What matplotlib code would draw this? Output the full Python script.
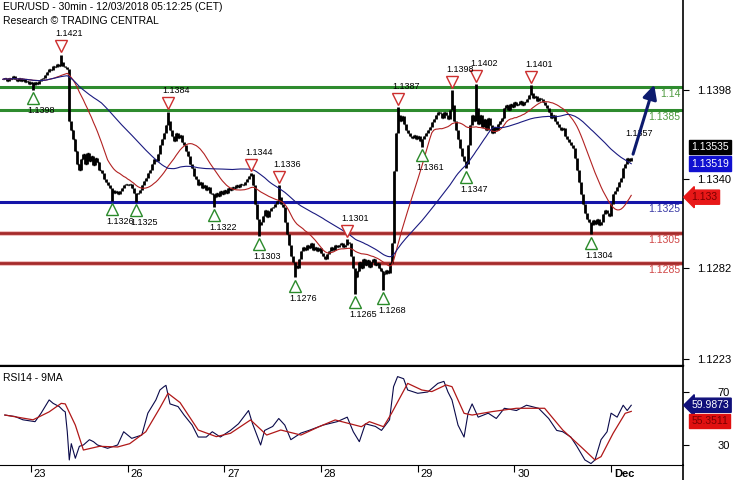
import matplotlib
matplotlib.use("Agg")
import matplotlib.pyplot as plt
from matplotlib.patches import FancyArrowPatch
from matplotlib.transforms import ScaledTranslation
import numpy as np
import pandas as pd

plt.rcParams['font.family'] = ['Liberation Sans', 'DejaVu Sans']

# 30 min closes in pips above 1.1300, 22 Nov 17:00 -> 3 Dec 05:00
close_pips = [
    105, 106, 104, 106, 105, 107, 105, 104, 106, 104,
    105, 103, 104, 102, 103, 101, 103, 102, 104, 105,
    106, 108, 110, 112, 111, 114, 113, 115, 114, 116,
    114, 113, 112, 78, 72, 66, 58, 50, 46, 53,
    56, 50, 57, 52, 55, 49, 54, 51, 46, 44,
    40, 38, 36, 34, 33, 31, 32, 30, 32, 34,
    36, 37, 36, 37, 34, 31, 30, 31, 33, 36,
    39, 41, 44, 46, 50, 53, 52, 56, 62, 66,
    70, 75, 78, 72, 68, 65, 70, 67, 69, 64,
    62, 58, 55, 50, 47, 42, 40, 36, 38, 34,
    36, 33, 35, 31, 30, 28, 31, 29, 32, 30,
    33, 31, 34, 33, 35, 34, 36, 35, 37, 36,
    38, 40, 42, 43, 36, 24, 14, 10, 12, 16,
    20, 15, 19, 21, 22, 24, 26, 28, 24, 22,
    12, 4, -3, -10, -14, -16, -18, -12, -7, -4,
    -6, -3, -5, -2, -6, -4, -7, -5, -8, -10,
    -12, -9, -7, -4, -6, -3, -4, -3, -2, -4,
    -3, -1, -2, -10, -18, -24, -20, -14, -18, -12,
    -16, -13, -17, -14, -12, -16, -15, -18, -20, -22,
    -19, -21, -15, -2, 45, 70, 82, 78, 81, 76,
    72, 70, 68, 67, 69, 66, 68, 65, 66, 68,
    70, 72, 74, 77, 79, 82, 84, 83, 80, 84,
    82, 79, 85, 88, 78, 72, 66, 60, 55, 52,
    50, 62, 75, 82, 78, 86, 76, 82, 74, 79,
    72, 80, 75, 70, 74, 72, 76, 78, 80, 86,
    88, 85, 89, 87, 90, 88, 89, 91, 88, 90,
    92, 95, 96, 93, 94, 91, 93, 92, 90, 88,
    86, 84, 80, 82, 78, 76, 74, 72, 73, 68,
    66, 64, 62, 60, 54, 46, 38, 30, 24, 18,
    14, 12, 10, 13, 11, 14, 10, 12, 17, 20,
    18, 16, 24, 30, 32, 35, 38, 41, 47, 50,
    54, 52, 53.5,
]

# swing points marked on the chart (bar index, price)
swing_highs = [(29, 1.1421), (82, 1.1384), (123, 1.1344), (137, 1.1336), (171, 1.1301),
               (196, 1.1387), (223, 1.1398), (235, 1.1402), (262, 1.1401)]
swing_lows = [(15, 1.1398), (54, 1.1326), (66, 1.1325), (105, 1.1322), (127, 1.1303),
              (145, 1.1276), (175, 1.1265), (189, 1.1268), (208, 1.1361), (230, 1.1347),
              (292, 1.1304)]

# RSI14 and its 9MA (bar index, value)
rsi_bars = [1, 6, 10, 16, 19, 23, 25, 28, 30, 31,
            32, 33, 34, 36, 38, 40, 43, 45, 47, 52,
            57, 60, 64, 69, 72, 76, 78, 80, 81, 83,
            87, 90, 94, 97, 101, 104, 108, 113, 117, 122,
            124, 128, 130, 134, 137, 140, 143, 148, 152, 159,
            166, 171, 174, 177, 180, 185, 188, 192, 194, 196,
            199, 201, 206, 211, 216, 219, 221, 223, 226, 229,
            231, 233, 236, 241, 245, 249, 255, 260, 266, 271,
            275, 278, 282, 285, 289, 292, 294, 297, 300, 302,
            305, 308, 310, 312]
rsi_vals = [52.6, 51.5, 49, 47.6, 54, 64, 61.4, 59, 56, 55,
            40, 18.7, 31, 20, 29, 30, 34, 32.5, 30, 27.5,
            30, 40, 35, 37.5, 54, 64, 71.5, 74, 75, 61,
            59, 52.6, 45, 36, 36, 40, 36, 41, 46, 56,
            46, 30, 41, 44, 50, 45, 34, 39, 41, 45,
            47.6, 51, 40, 32.5, 46, 44, 41, 49, 74, 81.6,
            80, 71.5, 69, 70, 76.5, 78, 70, 64, 45, 36,
            54, 61, 51, 54, 50, 57.7, 56, 60, 57.7, 50,
            41, 40, 36, 29, 18.7, 16, 18.7, 34, 40, 54,
            51, 60, 56, 59.99]
rsi_ma_bars = [1, 15, 23, 29, 31, 36, 40, 48, 57, 63,
               71, 78, 82, 88, 97, 106, 113, 123, 131, 138,
               148, 157, 165, 178, 182, 189, 193, 201, 208, 213,
               220, 223, 229, 233, 243, 255, 269, 278, 287, 294,
               297, 303, 309, 312]
rsi_ma_vals = [52.6, 49, 55, 61.4, 61, 45, 26.2, 29, 28.5, 31,
               40, 58, 69, 62, 41.3, 36.3, 38.8, 48.9, 37.5, 41.3,
               37.5, 43.8, 48.9, 43.8, 47.6, 43.8, 53.9, 76.5, 71.5, 70.3,
               75.3, 74, 53.9, 52.6, 55.2, 57.7, 57.7, 41.3, 28.7, 18.7,
               21.2, 38.8, 53.9, 55.35]

# support / resistance levels
levels = [1.14, 1.1385, 1.1325, 1.1305, 1.1285]
level_text = ["1.14", "1.1385", "1.1325", "1.1305", "1.1285"]
level_kind = ["g", "g", "b", "r", "r"]

price_ticks = [1.1398, 1.1340, 1.1282, 1.1223]
day_bars = [14, 62, 110, 158, 206, 254, 302]
day_labels = ["23", "26", "27", "28", "29", "30", "Dec"]

last_price = 1.13535
ma50_last = 1.13519
ma20_last = 1.133
rsi_last = 59.9873
rsi_ma_last = 55.3511

close = pd.Series(1.13 + np.array(close_pips) / 10000.0)
n = len(close)
idx = np.arange(n)
opn = close.shift(1).fillna(close.iloc[0])
high = np.maximum(opn, close).values.copy()
low = np.minimum(opn, close).values.copy()
for b, v in swing_highs:
    high[b] = v
for b, v in swing_lows:
    low[b] = v

ma20 = close.rolling(20, min_periods=1).mean()
ma50 = close.rolling(50, min_periods=1).mean()

fig = plt.figure(figsize=(7.35, 4.8), dpi=100)
ax = fig.add_axes([0, 115 / 480, 683 / 735, 365 / 480])
ax2 = fig.add_axes([0, 15 / 480, 683 / 735, 99 / 480])

xmin, xmax = -1.4, 337.7

# price bars
ax.vlines(idx, low, high, color="black", lw=2.0)
ax.hlines(close, idx, idx + 0.6, color="black", lw=1)
ax.plot(idx, ma20, color="#b22222", lw=0.8)
ax.plot(idx, ma50, color="#1a1a80", lw=0.8)

# levels
for lv, txt, k in zip(levels, level_text, level_kind):
    if k == "g":
        ax.axhline(lv, color="#2e8b2e", lw=2.2, zorder=1)
        tc = "#4f9a40"
    elif k == "b":
        ax.axhline(lv, color="#1414a8", lw=2.2, zorder=1)
        tc = "#3a3aa5"
    else:
        ax.axhline(lv, color="#f0c0c0", lw=3.6, zorder=1)
        ax.axhline(lv, color="#a52a2a", lw=2.0, zorder=1)
        tc = "#d04545"
    ax.annotate(txt, xy=(0.996, lv), xycoords=("axes fraction", "data"),
                xytext=(0, -5), textcoords="offset points", ha="right", va="center",
                fontsize=7.5, color=tc)

# swing markers
up = ax.transData + ScaledTranslation(0, 6 / 72, fig.dpi_scale_trans)
down = ax.transData + ScaledTranslation(0, -6 / 72, fig.dpi_scale_trans)
for b, v in swing_highs:
    ax.plot(b, v, marker="v", ms=8, mfc="white", mec="#cc2e2e", mew=1, transform=up)
    ax.annotate("%.4f" % v, xy=(b, v), xytext=(6, 15), textcoords="offset points",
                ha="center", va="center", fontsize=6.5, color="black")
for b, v in swing_lows:
    ax.plot(b, v, marker="^", ms=8, mfc="white", mec="#2a8a2a", mew=1, transform=down)
    ax.annotate("%.4f" % v, xy=(b, v), xytext=(6, -15), textcoords="offset points",
                ha="center", va="center", fontsize=6.5, color="black")

# forecast arrow
ax.add_patch(FancyArrowPatch((312.5, 1.13545), (323.8, 1.14032), arrowstyle="-|>",
                             mutation_scale=21, lw=2.2, color="#0d1b6e", zorder=5))
ax.text(316, 1.1370, "1.1357", fontsize=6.5, ha="center", va="center", color="black")

ax.set_xlim(xmin, xmax)
ax.set_ylim(1.12188, 1.14567)
ax.set_yticks(price_ticks)
ax.set_yticklabels(["%.4f" % t for t in price_ticks])
ax.yaxis.tick_right()
ax.tick_params(axis="y", length=4, pad=6, labelsize=8)
ax.set_xticks([])
for s in ["left", "top"]:
    ax.spines[s].set_visible(False)
ax.spines["right"].set_linewidth(1.2)
ax.spines["bottom"].set_linewidth(1.0)


def tag(a, y, text, fc, tc, dy=0, shape="square"):
    a.annotate(text, xy=(1.0, y), xycoords=("axes fraction", "data"),
               xytext=(6, dy), textcoords="offset points", ha="left", va="center",
               fontsize=7.5, color=tc, annotation_clip=False,
               bbox=dict(boxstyle=shape + ",pad=0.2", fc=fc, ec=fc))


tag(ax, last_price, "%.5f" % last_price, "black", "white", dy=8)
tag(ax, ma50_last, "%.5f" % ma50_last, "#1010d0", "white", dy=-2)
tag(ax, ma20_last, "%.3f" % ma20_last, "#e81818", "#7a0000", dy=-2, shape="larrow")

fig.text(3 / 735, 1 - 7 / 480, "EUR/USD - 30min - 12/03/2018 05:12:25 (CET)",
         fontsize=7.5, va="center", ha="left")
fig.text(3 / 735, 1 - 21 / 480, "Research \u00a9 TRADING CENTRAL",
         fontsize=7.5, va="center", ha="left")
fig.add_artist(plt.Line2D([683 / 735, 683 / 735], [0, 15 / 480], color="black", lw=1.2))

# RSI panel
ax2.plot(rsi_bars, rsi_vals, color="#0a0a4a", lw=0.8)
ax2.plot(rsi_ma_bars, rsi_ma_vals, color="#b01818", lw=0.9)
ax2.set_xlim(xmin, xmax)
ax2.set_ylim(14.9, 89.6)
ax2.set_yticks([70, 30])
ax2.set_yticklabels(["70", "30"])
ax2.yaxis.tick_right()
ax2.tick_params(axis="y", length=4, pad=21, labelsize=8)
ax2.set_xticks(day_bars)
ax2.set_xticklabels([])
ax2.tick_params(axis="x", length=5, direction="out")
ax2.spines["left"].set_visible(False)
ax2.spines["right"].set_linewidth(1.2)
ax2.text(0.004, 0.88, "RSI14 - 9MA", transform=ax2.transAxes, fontsize=7.5, va="center")
for b, lab in zip(day_bars, day_labels):
    ax2.annotate(lab, xy=(b, 0), xycoords=("data", "axes fraction"), xytext=(2, -3),
                 textcoords="offset points", ha="left", va="top", fontsize=8,
                 fontweight="bold" if lab == "Dec" else "normal", annotation_clip=False)
tag(ax2, rsi_last, "%.4f" % rsi_last, "#10107a", "white", dy=0, shape="larrow")
tag(ax2, rsi_ma_last, "%.4f" % rsi_ma_last, "#e01010", "#7a0000", dy=-7)

fig.savefig("out.png", dpi=100)
